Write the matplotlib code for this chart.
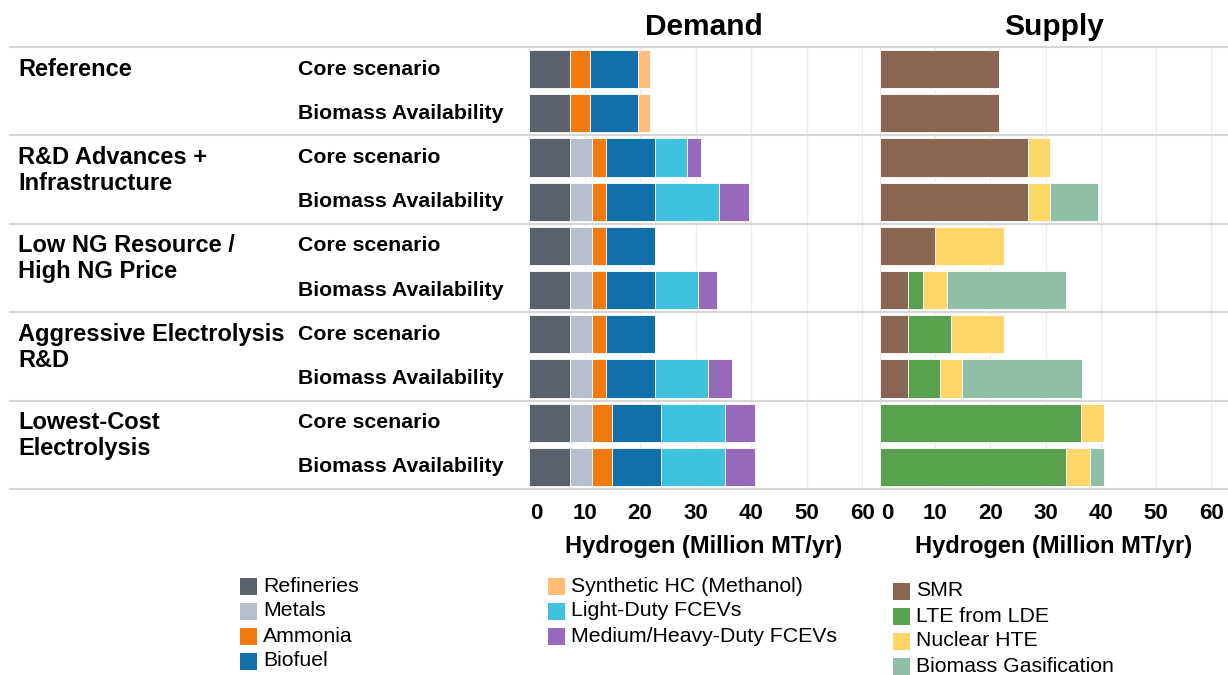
import matplotlib
matplotlib.use("Agg")
import matplotlib.pyplot as plt
import matplotlib.transforms as mtransforms
from matplotlib.patches import Rectangle
from matplotlib.lines import Line2D
import numpy as np

plt.rcParams["font.family"] = ["Liberation Sans", "DejaVu Sans"]

GROUPS = [
    ["Reference"],
    ["R&D Advances +", "Infrastructure"],
    ["Low NG Resource /", "High NG Price"],
    ["Aggressive Electrolysis", "R&D"],
    ["Lowest-Cost", "Electrolysis"],
]
CASES = ["Core scenario", "Biomass Availability"]

DEMAND_NAMES = ["Refineries", "Metals", "Ammonia", "Biofuel",
                "Synthetic HC (Methanol)", "Light-Duty FCEVs", "Medium/Heavy-Duty FCEVs"]
DEMAND_COLORS = ["#5a606c", "#b7bfcc", "#f07a0e", "#1170aa", "#ffbc79", "#3ec2de", "#9669bb"]

# one row per group/case, Million MT/yr
refineries = [7.3, 7.3, 7.3, 7.3, 7.3, 7.3, 7.3, 7.3, 7.3, 7.3]
metals     = [0.0, 0.0, 4.0, 4.0, 4.0, 4.0, 4.0, 4.0, 4.0, 4.0]
ammonia    = [3.6, 3.6, 2.6, 2.6, 2.6, 2.6, 2.6, 2.6, 3.7, 3.7]
biofuel    = [8.8, 8.8, 8.8, 8.8, 8.8, 8.8, 8.8, 8.8, 8.8, 8.8]
synth_hc   = [2.1, 2.1, 0.0, 0.0, 0.0, 0.0, 0.0, 0.0, 0.0, 0.0]
ld_fcev    = [0.0, 0.0, 5.8, 11.5, 0.0, 7.7, 0.0, 9.6, 11.5, 11.5]
mhd_fcev   = [0.0, 0.0, 2.5, 5.4, 0.0, 3.4, 0.0, 4.3, 5.3, 5.3]

SUPPLY_NAMES = ["SMR", "LTE from LDE", "Nuclear HTE", "Biomass Gasification"]
SUPPLY_COLORS = ["#8a6652", "#59a14f", "#fdd66a", "#8fbfa6"]

smr         = [21.6, 21.6, 26.8, 26.8, 9.9, 5.0, 5.0, 5.0, 0.0, 0.0]
lte         = [0.0, 0.0, 0.0, 0.0, 0.0, 2.8, 7.9, 5.8, 36.3, 33.7]
nuclear_hte = [0.0, 0.0, 4.0, 4.0, 12.6, 4.3, 9.6, 4.1, 4.3, 4.3]
biomass_gas = [0.0, 0.0, 0.0, 8.7, 0.0, 21.6, 0.0, 21.6, 0.0, 2.6]

demand = [refineries, metals, ammonia, biofuel, synth_hc, ld_fcev, mhd_fcev]
supply = [smr, lte, nuclear_hte, biomass_gas]

W, H = 1228, 675
fig = plt.figure(figsize=(W / 100, H / 100), dpi=100)

TOP, BOTTOM = 47, 489
n_rows = len(GROUPS) * len(CASES)
row_h = (BOTTOM - TOP) / n_rows


def px_axes(x0, x1):
    return fig.add_axes([x0 / W, (H - BOTTOM) / H, (x1 - x0) / W, (BOTTOM - TOP) / H])


def fy(y):
    return (H - y) / H


def stacked(ax, series, colors):
    rows = np.arange(n_rows)
    left = np.zeros(n_rows)
    for vals, c in zip(series, colors):
        vals = np.array(vals)
        ax.barh(rows, vals, left=left, height=0.86, color=c,
                edgecolor="white", linewidth=0.6, zorder=3)
        left += vals
    ax.set_xlim(0, 63)
    ax.set_ylim(n_rows - 0.5, -0.5)
    ax.set_yticks([])
    ax.set_xticks(range(0, 61, 10))
    ax.tick_params(axis="x", length=0, pad=10, labelsize=16)
    labels = ax.get_xticklabels()
    for lbl in labels:
        lbl.set_fontweight("bold")
    # nudge the zero label off the neighbouring panel's "60"
    shift = mtransforms.ScaledTranslation(7 / 100, 0, fig.dpi_scale_trans)
    labels[0].set_transform(labels[0].get_transform() + shift)
    ax.grid(axis="x", color="#ececec", linewidth=1, zorder=0)
    ax.axvline(0, color="#cfcfcf", linewidth=1.2, zorder=1)
    for s in ax.spines.values():
        s.set_visible(False)
    ax.set_xlabel("Hydrogen (Million MT/yr)", fontsize=17, fontweight="bold", labelpad=8)


ax_d = px_axes(529, 879)
stacked(ax_d, demand, DEMAND_COLORS)
ax_s = px_axes(880, 1228)
stacked(ax_s, supply, SUPPLY_COLORS)

fig.text(704 / W, fy(27), "Demand", ha="center", va="center", fontsize=21.5, fontweight="bold")
fig.text(1054 / W, fy(27), "Supply", ha="center", va="center", fontsize=21.5, fontweight="bold")

# group separators across the whole table
for g in range(len(GROUPS) + 1):
    y = TOP + g * len(CASES) * row_h
    fig.add_artist(Line2D([10 / W, 1.0], [fy(y), fy(y)], color="#d6d6d6", linewidth=1.5))

for g, lines in enumerate(GROUPS):
    y0 = TOP + (g * len(CASES) + 0.5) * row_h
    for k, line in enumerate(lines):
        fig.text(18 / W, fy(y0 + k * 26), line, ha="left", va="center",
                 fontsize=17, fontweight="bold")
    for c, case in enumerate(CASES):
        yc = TOP + (g * len(CASES) + c + 0.5) * row_h
        fig.text(298 / W, fy(yc), case, ha="left", va="center",
                 fontsize=15.3, fontweight="bold")


def legend_block(x, y, names, colors, step=25):
    for i, (name, c) in enumerate(zip(names, colors)):
        yc = y + i * step
        fig.add_artist(Rectangle((x / W, fy(yc + 8.5)), 17 / W, 17 / H,
                                 facecolor=c, edgecolor="none"))
        fig.text((x + 23) / W, fy(yc), name, ha="left", va="center", fontsize=15.3)


legend_block(240, 586, DEMAND_NAMES[:4], DEMAND_COLORS[:4])
legend_block(548, 586, DEMAND_NAMES[4:], DEMAND_COLORS[4:])
legend_block(893, 591, SUPPLY_NAMES, SUPPLY_COLORS)

fig.savefig("out.png", dpi=100, facecolor="white")
